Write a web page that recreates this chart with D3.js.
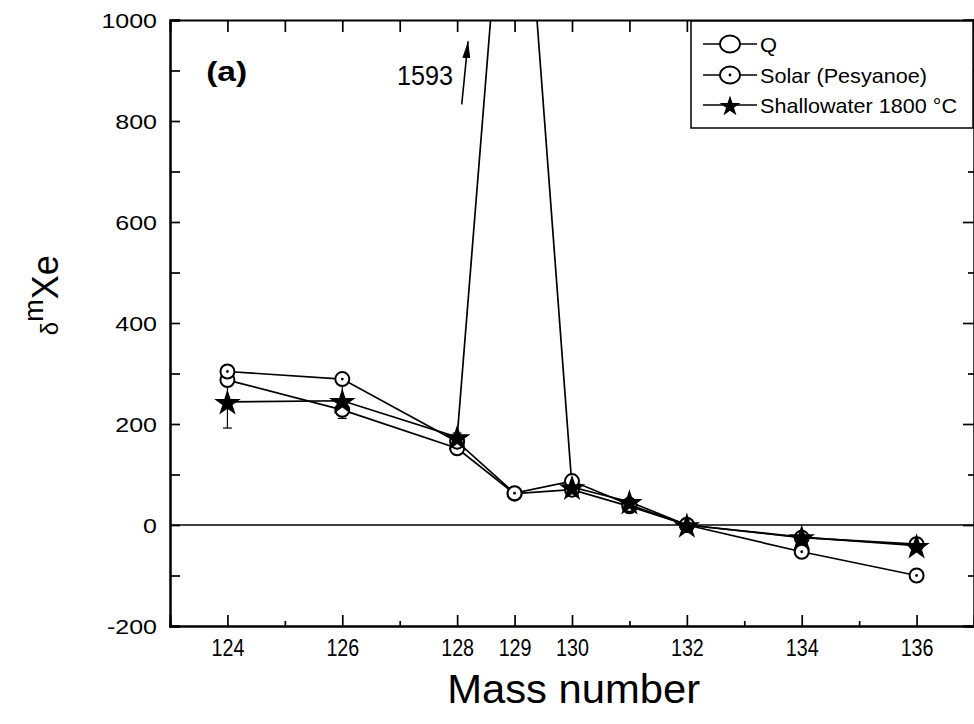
<!DOCTYPE html>
<html><head><meta charset="utf-8">
<script src="https://cdn.jsdelivr.net/npm/d3@7"></script>
<style>body{margin:0;background:#fff}svg{display:block}text{font-family:Arial,"Liberation Sans",sans-serif;fill:#000}</style>
</head><body>
<svg id="c" width="974" height="724"></svg>
<script>
const masses = [124, 126, 128, 129, 130, 131, 132, 134, 136];
const qValues = [287, 228, 152, 62, 70, 37, 0, -25, -38];
const solarValues = [304, 289, 165, 63, 87, 40, 0, -53, -100];
const shallowValues = [244, 246, 174, 1593, 75, 46, 0, -24, -41];
const shallowErrors = [52, 35, 8, 0, 6, 6, 4, 6, 6];
const xTickLabels = [124, 126, 128, 129, 130, 132, 134, 136];
const xMinorTicks = [125, 127, 131, 133, 135];
const xTopTicks = [124, 125, 126, 127, 128, 129, 130, 131, 132, 133, 134, 135, 136];
const yTickLabels = [-200, 0, 200, 400, 600, 800, 1000];
const yMinorTicks = [-100, 100, 300, 500, 700, 900];
const seriesNames = ["Q", "Solar (Pesyanoe)", "Shallowater 1800 \u00B0C"];
const peakLabel = "1593";
const panelLabel = "(a)";

const svg = d3.select("#c");
const L = 170, R = 974, T = 20, B = 626;
const x = d3.scaleLinear().domain([123, 137]).range([L, R]);
const y = d3.scaleLinear().domain([-200, 1000]).range([B, T]);
const NARROW = "'Liberation Sans Narrow','Arial Narrow',Arial,sans-serif";

function fit(sel, len) {
  sel.attr("textLength", len).attr("lengthAdjust", "spacingAndGlyphs");
}
function stretch(sel, f) {
  sel.each(function () {
    const w = this.getComputedTextLength();
    d3.select(this).attr("textLength", w * f).attr("lengthAdjust", "spacingAndGlyphs");
  });
}

svg.append("defs").append("clipPath").attr("id", "clip")
  .append("rect").attr("x", L).attr("y", T).attr("width", R - L).attr("height", B - T);

// zero line
svg.append("line").attr("x1", L).attr("x2", R).attr("y1", y(0)).attr("y2", y(0))
  .attr("stroke", "#000").attr("stroke-width", 1.6);

// axes
const gB = svg.append("g").attr("transform", `translate(0,${B})`)
  .call(d3.axisBottom(x).tickValues(xTickLabels).tickSize(-11).tickPadding(13).tickFormat(d => String(d)));
svg.append("g").attr("transform", `translate(0,${B})`)
  .call(d3.axisBottom(x).tickValues(xMinorTicks).tickSize(-5).tickFormat(""));
svg.append("g").attr("transform", `translate(0,${T})`)
  .call(d3.axisTop(x).tickValues(xTopTicks).tickSize(-12).tickFormat(""));
const gL = svg.append("g").attr("transform", `translate(${L},0)`)
  .call(d3.axisLeft(y).tickValues(yTickLabels).tickSize(-10).tickPadding(13).tickFormat(d => String(d)));
svg.append("g").attr("transform", `translate(${L},0)`)
  .call(d3.axisLeft(y).tickValues(yMinorTicks).tickSize(-10).tickFormat(""));
svg.append("g").attr("transform", `translate(${R},0)`)
  .call(d3.axisRight(y).tickValues(yTickLabels).tickSize(-11).tickFormat(""));
svg.append("g").attr("transform", `translate(${R},0)`)
  .call(d3.axisRight(y).tickValues(yMinorTicks).tickSize(-6).tickFormat(""));
svg.selectAll(".domain").attr("stroke", "#000").attr("stroke-width", 2);
svg.selectAll(".tick line").attr("stroke", "#000").attr("stroke-width", 1.7);
gB.selectAll(".tick text").attr("font-size", 24).attr("font-family", NARROW);
gB.selectAll(".tick text").call(stretch, 0.82);
gL.selectAll(".tick text").attr("font-size", 20).attr("dy", "0.35em");
gL.selectAll(".tick text").call(stretch, 1.25);

// axis titles
svg.append("text").attr("x", x(130.03)).attr("y", 703).attr("text-anchor", "middle")
  .attr("font-size", 40).attr("font-family", NARROW).text("Mass number").call(fit, 253);
const yl = svg.append("text").attr("transform", `translate(58,${y(455)}) rotate(-90)`)
  .attr("text-anchor", "middle");
yl.append("tspan").attr("font-size", 24).text("\u03B4");
yl.append("tspan").attr("font-size", 27).attr("dy", -15).text("m");
yl.append("tspan").attr("font-size", 36).attr("dy", 15).text("Xe");

// data lines
const plot = svg.append("g").attr("clip-path", "url(#clip)");
const line = d3.line().x(d => x(d[0])).y(d => y(d[1]));
const series = [qValues, solarValues, shallowValues];
series.forEach(vals => {
  plot.append("path").datum(masses.map((m, i) => [m, vals[i]]))
    .attr("d", line).attr("fill", "none").attr("stroke", "#000").attr("stroke-width", 1.7);
});

// error bars (Shallowater)
const eb = plot.append("g").attr("stroke", "#000").attr("stroke-width", 1.2);
masses.forEach((m, i) => {
  const e = shallowErrors[i];
  if (!e) return;
  const cx = x(m);
  eb.append("line").attr("x1", cx).attr("x2", cx).attr("y1", y(shallowValues[i] - e)).attr("y2", y(shallowValues[i] + e));
  eb.append("line").attr("x1", cx - 4.5).attr("x2", cx + 4.5).attr("y1", y(shallowValues[i] - e)).attr("y2", y(shallowValues[i] - e));
  eb.append("line").attr("x1", cx - 4.5).attr("x2", cx + 4.5).attr("y1", y(shallowValues[i] + e)).attr("y2", y(shallowValues[i] + e));
});

// markers
const star = d3.symbol().type(d3.symbolStar);
plot.selectAll(".q").data(masses.map((m, i) => [m, qValues[i]])).join("circle")
  .attr("cx", d => x(d[0])).attr("cy", d => y(d[1])).attr("r", 7)
  .attr("fill", "#fff").attr("stroke", "#000").attr("stroke-width", 2);
const sg = plot.selectAll(".so").data(masses.map((m, i) => [m, solarValues[i]])).join("g")
  .attr("transform", d => `translate(${x(d[0])},${y(d[1])})`);
sg.append("circle").attr("r", 7).attr("fill", "#fff").attr("stroke", "#000").attr("stroke-width", 2);
sg.append("circle").attr("r", 1.4).attr("fill", "#000");
plot.selectAll(".sw").data(masses.map((m, i) => [m, shallowValues[i]])).join("path")
  .attr("transform", d => `translate(${x(d[0])},${y(d[1]) + 1.5})`)
  .attr("d", star.size(220)).attr("fill", "#000");

// annotations
svg.append("text").attr("x", x(123.63)).attr("y", y(880)).attr("font-size", 28)
  .attr("font-weight", "bold").text(panelLabel).call(fit, 41);
svg.append("text").attr("x", x(127.93)).attr("y", y(872)).attr("text-anchor", "end")
  .attr("font-size", 27).attr("font-family", NARROW)
  .text(peakLabel).call(fit, 56);
svg.append("defs").append("marker").attr("id", "ah").attr("viewBox", "0 0 10 10")
  .attr("refX", 10).attr("refY", 5).attr("markerWidth", 17).attr("markerHeight", 8)
  .attr("markerUnits", "userSpaceOnUse").attr("orient", "auto").attr("preserveAspectRatio", "none")
  .append("path").attr("d", "M0,0 L10,5 L0,10 Z").attr("fill", "#000");
svg.append("line").attr("x1", x(128.08)).attr("y1", y(833)).attr("x2", x(128.19)).attr("y2", y(958))
  .attr("stroke", "#000").attr("stroke-width", 1.6).attr("marker-end", "url(#ah)");

// legend
const lg = svg.append("g");
lg.append("rect").attr("x", 691).attr("y", 21).attr("width", 282).attr("height", 107)
  .attr("fill", "#fff").attr("stroke", "#000").attr("stroke-width", 1.5);
const rows = [44, 75, 105];
const lens = [17, 167, 197];
rows.forEach((ry, i) => {
  lg.append("line").attr("x1", 703).attr("x2", 757).attr("y1", ry).attr("y2", ry)
    .attr("stroke", "#000").attr("stroke-width", 1.7);
  if (i === 2) {
    lg.append("path").attr("transform", `translate(730,${ry + 1.5})`).attr("d", star.size(135)).attr("fill", "#000");
  } else {
    lg.append("ellipse").attr("cx", 730).attr("cy", ry).attr("rx", 10).attr("ry", 8.5)
      .attr("fill", "#fff").attr("stroke", "#000").attr("stroke-width", 1.8);
    if (i === 1) lg.append("circle").attr("cx", 730).attr("cy", ry).attr("r", 1.4).attr("fill", "#000");
  }
  lg.append("text").attr("x", 760).attr("y", ry + 7.5).attr("font-size", 21)
    .text(seriesNames[i]).call(fit, lens[i]);
});
</script>
</body></html>
